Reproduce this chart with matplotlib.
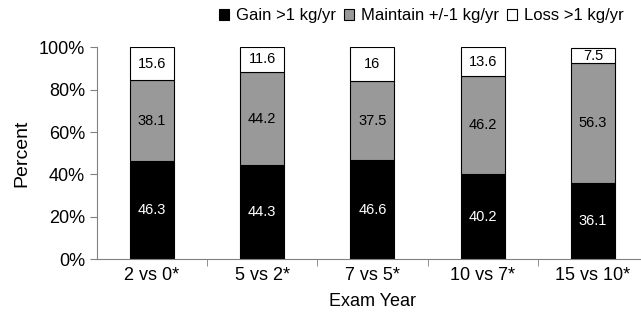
import numpy as np
import matplotlib.pyplot as plt
from matplotlib.ticker import FuncFormatter, FixedLocator

plt.rcParams['font.family'] = ['Liberation Sans', 'DejaVu Sans']

categories = ['2 vs 0*', '5 vs 2*', '7 vs 5*', '10 vs 7*', '15 vs 10*']
gain = [46.3, 44.3, 46.6, 40.2, 36.1]
maintain = [38.1, 44.2, 37.5, 46.2, 56.3]
loss = [15.6, 11.6, 16, 13.6, 7.5]
series_names = ['Gain >1 kg/yr', 'Maintain +/-1 kg/yr', 'Loss >1 kg/yr']

fig = plt.figure(figsize=(6.41, 3.16), dpi=100)
ax = fig.add_axes([0.151, 0.18, 0.86, 0.67])

x = np.arange(len(categories))
w = 0.4
gain_a = np.array(gain)
maint_a = np.array(maintain)
loss_a = np.array(loss)

b1 = ax.bar(x, gain_a, w, color='black', edgecolor='black', linewidth=0.8, label=series_names[0])
b2 = ax.bar(x, maint_a, w, bottom=gain_a, color='#999999', edgecolor='black', linewidth=0.8, label=series_names[1])
b3 = ax.bar(x, loss_a, w, bottom=gain_a + maint_a, color='white', edgecolor='black', linewidth=0.8, label=series_names[2])

for i in range(len(categories)):
    ax.text(x[i], gain_a[i] / 2, f'{gain[i]:g}', ha='center', va='center', color='white', fontsize=10.5)
    ax.text(x[i], gain_a[i] + maint_a[i] / 2, f'{maintain[i]:g}', ha='center', va='center', color='black', fontsize=10.5)
    ax.text(x[i], gain_a[i] + maint_a[i] + loss_a[i] / 2, f'{loss[i]:g}', ha='center', va='center', color='black', fontsize=10.5)

ax.set_xlim(-0.5, len(categories) - 0.5)
ax.set_ylim(0, 100)
ax.set_yticks(np.arange(0, 101, 20))
ax.yaxis.set_major_formatter(FuncFormatter(lambda v, p: f'{v:.0f}%'))
ax.set_xticks(x)
ax.set_xticklabels(categories, fontsize=13)
ax.xaxis.set_minor_locator(FixedLocator(np.arange(0.5, len(categories) - 0.5, 1)))
ax.tick_params(axis='x', which='major', length=0, pad=6)
ax.tick_params(axis='x', which='minor', length=5, color='#808080', direction='out')
ax.tick_params(axis='y', labelsize=13, length=5, color='#808080', direction='out')

for s in ['top', 'right']:
    ax.spines[s].set_visible(False)
for s in ['left', 'bottom']:
    ax.spines[s].set_color('#808080')

ax.set_ylabel('Percent', fontsize=14, labelpad=6)
ax.set_xlabel('Exam Year', fontsize=13, labelpad=6)

fig.legend(handles=[b1, b2, b3], loc='upper center', bbox_to_anchor=(0.657, 1.0), ncol=3,
           frameon=False, fontsize=12, handlelength=0.65, handleheight=0.65,
           handletextpad=0.4, columnspacing=0.45, borderaxespad=0.1)

fig.savefig('out.png', dpi=100)
